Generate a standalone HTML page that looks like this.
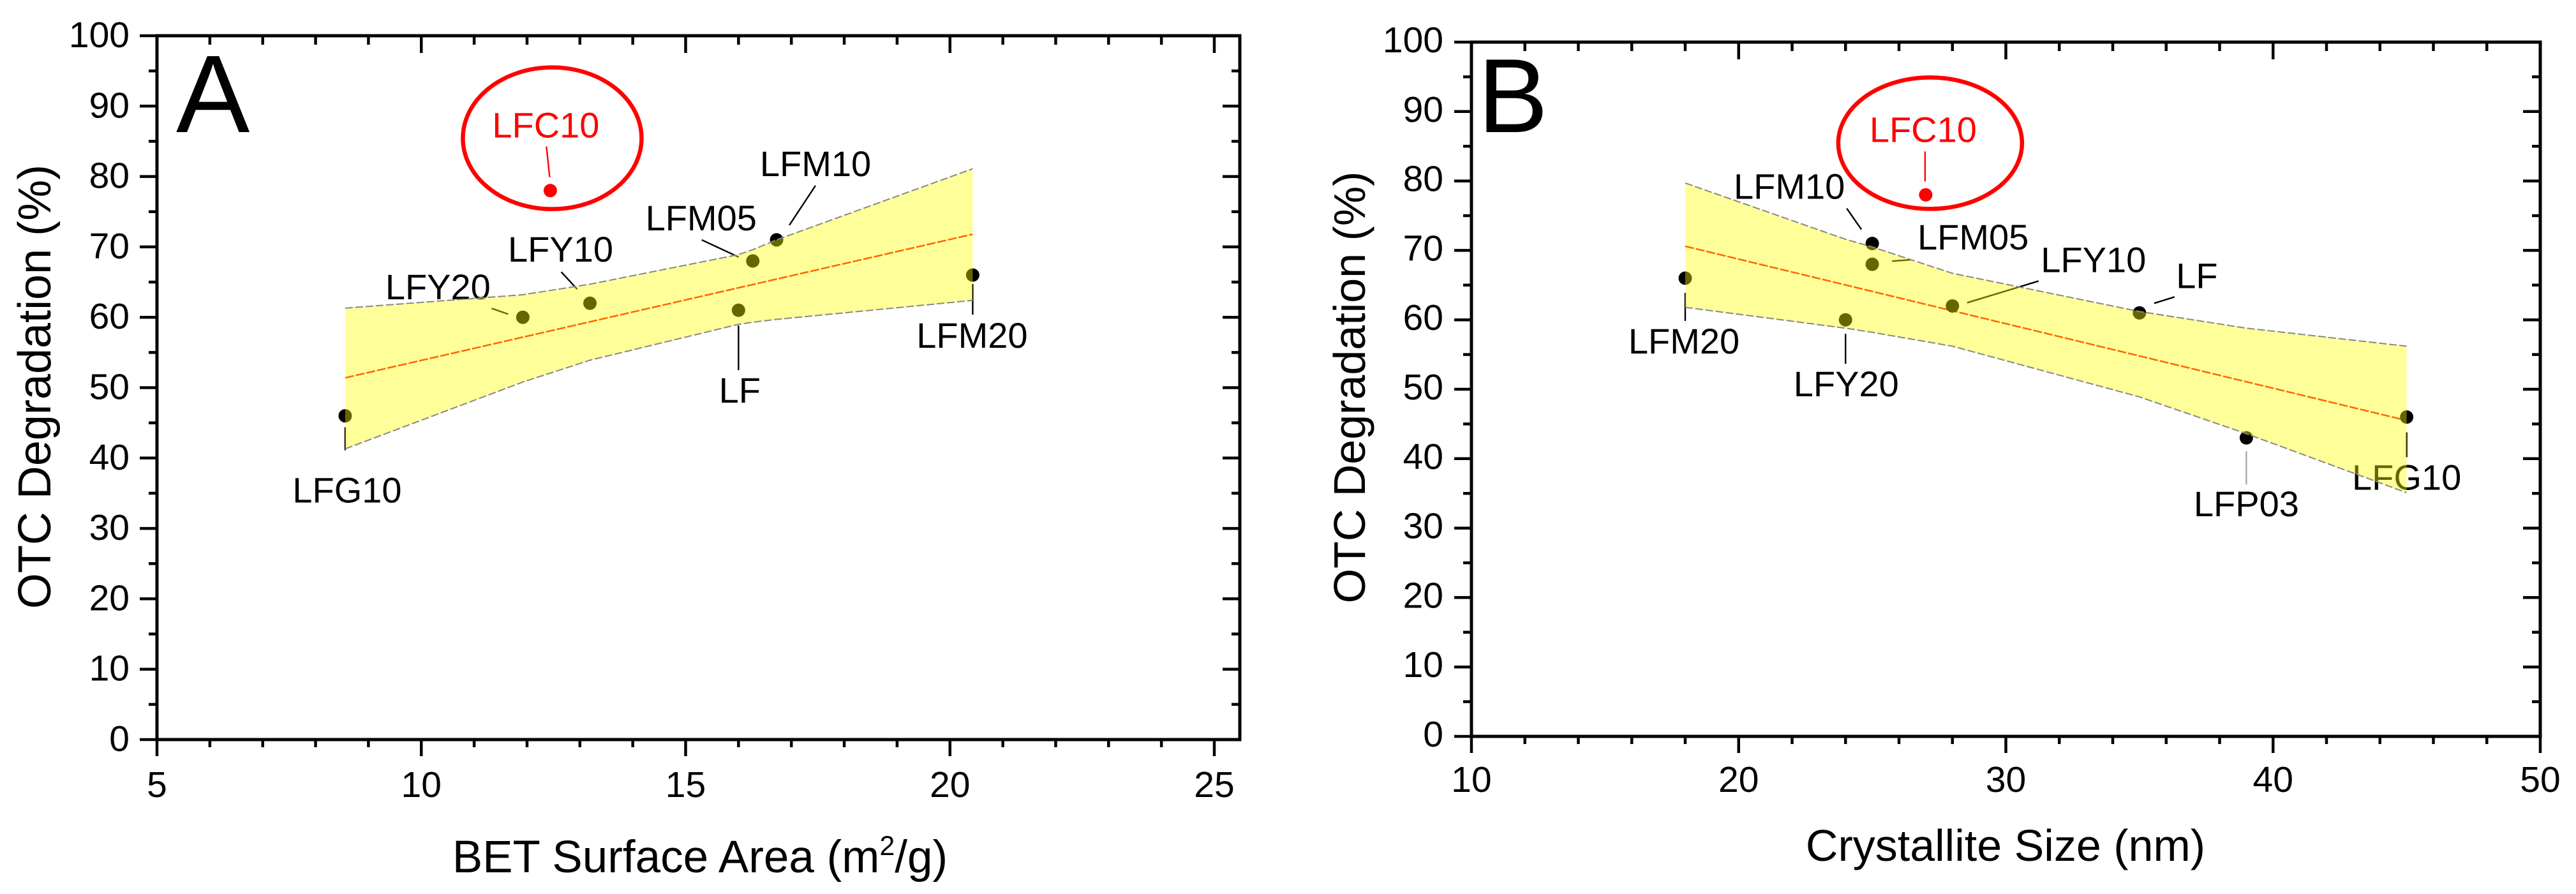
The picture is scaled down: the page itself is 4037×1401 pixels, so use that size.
<!DOCTYPE html>
<html lang="en">
<head>
<meta charset="utf-8">
<title>OTC degradation vs BET surface area and crystallite size</title>
<style>
html,body{margin:0;padding:0;background:#fff;width:4037px;height:1401px;overflow:hidden}
svg{display:block;font-family:"Liberation Sans",Arial,sans-serif}
</style>
</head>
<body>
<svg id="chart" xmlns="http://www.w3.org/2000/svg" width="4037" height="1401" viewBox="0 0 4037 1401">
  <rect x="0" y="0" width="4037" height="1401" fill="#fff"/>
  <g id="panel-a">
    <text x="276" y="207" font-size="173" text-anchor="start" fill="#000">A</text>
    <text transform="translate(79,606) rotate(-90)" font-size="72" text-anchor="middle" fill="#000">OTC Degradation (%)</text>
    <text x="1097" y="1367" font-size="71" text-anchor="middle" fill="#000">BET Surface Area (m<tspan font-size="43" dy="-27">2</tspan><tspan dy="27">/g)</tspan></text>
  </g>
  <g id="panel-b">
    <text x="2316" y="207" font-size="165" text-anchor="start" fill="#000">B</text>
    <text transform="translate(2139,607) rotate(-90)" font-size="70" text-anchor="middle" fill="#000">OTC Degradation (%)</text>
    <text x="3143" y="1349" font-size="70" text-anchor="middle" fill="#000">Crystallite Size (nm)</text>
  </g>
</svg>
<script>
// Panel A data
const aSamples = ['LFG10', 'LFY20', 'LFY10', 'LF', 'LFM05', 'LFM10', 'LFM20', 'LFC10'];
const aSurfaceArea = [8.56, 11.92, 13.19, 16.0, 16.27, 16.72, 20.43, 12.44];
const aDegradation = [46, 60, 62, 61, 68, 71, 66, 78];
const aBandX = [8.56, 11.92, 13.19, 16.0, 16.27, 16.72, 20.43];
const aBandUpper = [61.3, 63.2, 64.7, 68.9, 69.6, 71.0, 81.1];
const aBandLower = [41.3, 50.8, 53.9, 59.0, 59.3, 59.7, 62.4];
const aFitX = [8.56, 20.43];
const aFitY = [51.4, 71.8];
const aXTicks = ['5', '10', '15', '20', '25'];
const aYTicks = ['0', '10', '20', '30', '40', '50', '60', '70', '80', '90', '100'];

// Panel B data
const bSamples = ['LFM20', 'LFY20', 'LFM10', 'LFM05', 'LFY10', 'LF', 'LFP03', 'LFG10', 'LFC10'];
const bCrystallite = [18, 24, 25, 25, 28, 35, 39, 45, 27];
const bDegradation = [66, 60, 71, 68, 62, 61, 43, 46, 78];
const bBandX = [18, 24, 25, 28, 35, 39, 45];
const bBandUpper = [79.7, 71.6, 70.5, 66.7, 61.2, 58.8, 56.2];
const bBandLower = [61.8, 58.8, 58.2, 56.2, 48.9, 43.6, 35.1];
const bFitX = [18, 45];
const bFitY = [70.6, 45.5];
const bXTicks = ['10', '20', '30', '40', '50'];
const bYTicks = ['0', '10', '20', '30', '40', '50', '60', '70', '80', '90', '100'];

const NS = 'http://www.w3.org/2000/svg';

function mk(parent, tag, attrs, text) {
  const e = document.createElementNS(NS, tag);
  for (const k in attrs) e.setAttribute(k, attrs[k]);
  if (text !== undefined) e.textContent = text;
  parent.appendChild(e);
  return e;
}

function makeScale(d0, r0, unit) {
  return function (v) { return r0 + (v - d0) * unit; };
}

function drawAxes(g, o) {
  const sx = o.sx, sy = o.sy;
  const frame = mk(g, 'rect', { x: o.left, y: o.top, width: o.right - o.left, height: o.bottom - o.top, fill: 'none', stroke: '#000', 'stroke-width': 5 });
  
  

  o.xTicks.forEach(function (label) {
    const v = parseFloat(label);
    const t = mk(g, 'line', { x1: sx(v), x2: sx(v), y1: o.bottom, y2: o.bottom + 26, stroke: '#000', 'stroke-width': 4.5 });
    
    
    const tt = mk(g, 'line', { x1: sx(v), x2: sx(v), y1: o.top, y2: o.top + 27, stroke: '#000', 'stroke-width': 4.5 });
    
    
    const l = mk(g, 'text', { x: sx(v), y: o.xLabelY, 'font-size': 57, 'text-anchor': 'middle', fill: '#000' }, label);
    
    
  });
  for (let i = 0; i < o.xTicks.length - 1; i++) {
    const a = parseFloat(o.xTicks[i]), b = parseFloat(o.xTicks[i + 1]);
    for (let m = a + o.xMinor; m < b - 1e-6; m += o.xMinor) {
      const t = mk(g, 'line', { x1: sx(m), x2: sx(m), y1: o.bottom, y2: o.bottom + 12, stroke: '#000', 'stroke-width': 4.5 });
      
      
      const tt = mk(g, 'line', { x1: sx(m), x2: sx(m), y1: o.top, y2: o.top + 14, stroke: '#000', 'stroke-width': 4.5 });
      
      
    }
  }
  const lastX = parseFloat(o.xTicks[o.xTicks.length - 1]);
  for (let m = lastX + o.xMinor; sx(m) < o.right - 2; m += o.xMinor) {
    const t = mk(g, 'line', { x1: sx(m), x2: sx(m), y1: o.bottom, y2: o.bottom + 12, stroke: '#000', 'stroke-width': 4.5 });
    
    
  }

  o.yTicks.forEach(function (label) {
    const v = parseFloat(label);
    const t = mk(g, 'line', { x1: o.left - 27, x2: o.left, y1: sy(v), y2: sy(v), stroke: '#000', 'stroke-width': 4.5 });
    
    
    const tr = mk(g, 'line', { x1: o.right - 27, x2: o.right, y1: sy(v), y2: sy(v), stroke: '#000', 'stroke-width': 4.5 });
    
    
    const l = mk(g, 'text', { x: o.yLabelX, y: sy(v) + o.yLabelDy, 'font-size': 57, 'text-anchor': 'end', fill: '#000' }, label);
    
    
  });
  for (let i = 0; i < o.yTicks.length - 1; i++) {
    const m = (parseFloat(o.yTicks[i]) + parseFloat(o.yTicks[i + 1])) / 2;
    const t = mk(g, 'line', { x1: o.left - 13, x2: o.left, y1: sy(m), y2: sy(m), stroke: '#000', 'stroke-width': 4.5 });
    
    
    const tr = mk(g, 'line', { x1: o.right - 13, x2: o.right, y1: sy(m), y2: sy(m), stroke: '#000', 'stroke-width': 4.5 });
    
    
  }
}

function drawFit(g, o, xs, ys) {
  const fit = mk(g, 'line', { x1: o.sx(xs[0]), y1: o.sy(ys[0]), x2: o.sx(xs[1]), y2: o.sy(ys[1]), stroke: '#f00', 'stroke-width': 2.5, 'stroke-dasharray': '14 3' });
  
  
}

function drawPoint(g, o, x, y, color) {
  const p = mk(g, 'circle', { cx: o.sx(x), cy: o.sy(y), r: 10.5, fill: color });
  
  
}

function annotate(g, o, x, y, name, dx, dy, lx1, ly1, lx2, ly2, color, leaderColor) {
  const px = o.sx(x), py = o.sy(y);
  const leader = mk(g, 'line', { x1: px + lx1, y1: py + ly1, x2: px + lx2, y2: py + ly2, stroke: leaderColor || color, 'stroke-width': 2.4 });
  
  
  const t = mk(g, 'text', { x: px + dx, y: py + dy, 'font-size': 56, 'text-anchor': 'middle', fill: color }, name);
  
  
}

function drawOutlierRing(g, o, x, y, dx, dy, rx, ry) {
  const ring = mk(g, 'ellipse', { cx: o.sx(x) + dx, cy: o.sy(y) + dy, rx: rx, ry: ry, fill: 'none', stroke: '#f00', 'stroke-width': 6.5 });
  
  
}

function drawBand(g, o, xs, up, lo) {
  let pts = [];
  xs.forEach(function (x, i) { pts.push(o.sx(x) + ',' + o.sy(up[i])); });
  for (let i = xs.length - 1; i >= 0; i--) pts.push(o.sx(xs[i]) + ',' + o.sy(lo[i]));
  const band = mk(g, 'polygon', { points: pts.join(' '), fill: '#ff0', 'fill-opacity': 0.4, stroke: 'none' });
  
  
  const upPts = xs.map(function (x, i) { return o.sx(x) + ',' + o.sy(up[i]); }).join(' ');
  const loPts = xs.map(function (x, i) { return o.sx(x) + ',' + o.sy(lo[i]); }).join(' ');
  const e1 = mk(g, 'polyline', { points: upPts, fill: 'none', stroke: '#888', 'stroke-width': 2, 'stroke-dasharray': '12 4' });
  
  
  const e2 = mk(g, 'polyline', { points: loPts, fill: 'none', stroke: '#888', 'stroke-width': 2, 'stroke-dasharray': '12 4' });
  
  
}

// ---------- Panel A ----------
const gA = document.getElementById('panel-a');
const optA = {
  sx: makeScale(5, 246, 82.85), sy: makeScale(0, 1159, -11.03),
  left: 246, right: 1943, top: 56, bottom: 1159,
  xTicks: aXTicks, yTicks: aYTicks, xMinor: 1,
  xLabelY: 1249, yLabelX: 203, yLabelDy: 18
};
drawAxes(gA, optA);
drawFit(gA, optA, aFitX, aFitY);
aSamples.forEach(function (s, i) {
  drawPoint(gA, optA, aSurfaceArea[i], aDegradation[i], s === 'LFC10' ? '#f00' : '#000');
});
annotate(gA, optA, aSurfaceArea[0], aDegradation[0], aSamples[0], 3, 136, 0, 18, 0, 54, '#000');
annotate(gA, optA, aSurfaceArea[1], aDegradation[1], aSamples[1], -133, -28, -49, -14, -23, -5, '#000');
annotate(gA, optA, aSurfaceArea[2], aDegradation[2], aSamples[2], -46, -65, -45, -49, -20, -22, '#000');
annotate(gA, optA, aSurfaceArea[3], aDegradation[3], aSamples[3], 2, 145, 0, 24, 0, 94, '#000');
annotate(gA, optA, aSurfaceArea[4], aDegradation[4], aSamples[4], -81, -48, -80, -33, -22, -6, '#000');
annotate(gA, optA, aSurfaceArea[5], aDegradation[5], aSamples[5], 61, -100, 61, -85, 20, -23, '#000');
annotate(gA, optA, aSurfaceArea[6], aDegradation[6], aSamples[6], -1, 114, 0, 14, 0, 62, '#000');
annotate(gA, optA, aSurfaceArea[7], aDegradation[7], aSamples[7], -7, -83, -6, -69, -1, -21, '#f00');
drawOutlierRing(gA, optA, aSurfaceArea[7], aDegradation[7], 3, -82, 140, 111);
drawBand(gA, optA, aBandX, aBandUpper, aBandLower);

// ---------- Panel B ----------
const gB = document.getElementById('panel-b');
const optB = {
  sx: makeScale(10, 2306, 41.875), sy: makeScale(0, 1154, -10.88),
  left: 2306, right: 3981, top: 66, bottom: 1154,
  xTicks: bXTicks, yTicks: bYTicks, xMinor: 2,
  xLabelY: 1241, yLabelX: 2262, yLabelDy: 16
};
drawAxes(gB, optB);
drawFit(gB, optB, bFitX, bFitY);
bSamples.forEach(function (s, i) {
  drawPoint(gB, optB, bCrystallite[i], bDegradation[i], s === 'LFC10' ? '#f00' : '#000');
});
annotate(gB, optB, bCrystallite[0], bDegradation[0], bSamples[0], -2, 118, 0, 23, 0, 67, '#000');
annotate(gB, optB, bCrystallite[1], bDegradation[1], bSamples[1], 1, 120, 0, 22, 0, 69, '#000');
annotate(gB, optB, bCrystallite[2], bDegradation[2], bSamples[2], -130, -70, -40, -55, -17, -22, '#000');
annotate(gB, optB, bCrystallite[3], bDegradation[3], bSamples[3], 158, -23, 31, -5, 60, -7, '#000');
annotate(gB, optB, bCrystallite[4], bDegradation[4], bSamples[4], 221, -53, 23, -5, 135, -39, '#000');
annotate(gB, optB, bCrystallite[5], bDegradation[5], bSamples[5], 90, -39, 23, -15, 55, -25, '#000');
annotate(gB, optB, bCrystallite[6], bDegradation[6], bSamples[6], 0, 123, 0, 21, 0, 73, '#000', '#aaa');
annotate(gB, optB, bCrystallite[7], bDegradation[7], bSamples[7], 0, 114, 0, 24, 0, 63, '#000');
annotate(gB, optB, bCrystallite[8], bDegradation[8], bSamples[8], -4, -83, -1, -68, -1, -21, '#f00');
drawOutlierRing(gB, optB, bCrystallite[8], bDegradation[8], 7, -81, 144, 103);
drawBand(gB, optB, bBandX, bBandUpper, bBandLower);
</script>
</body>
</html>
